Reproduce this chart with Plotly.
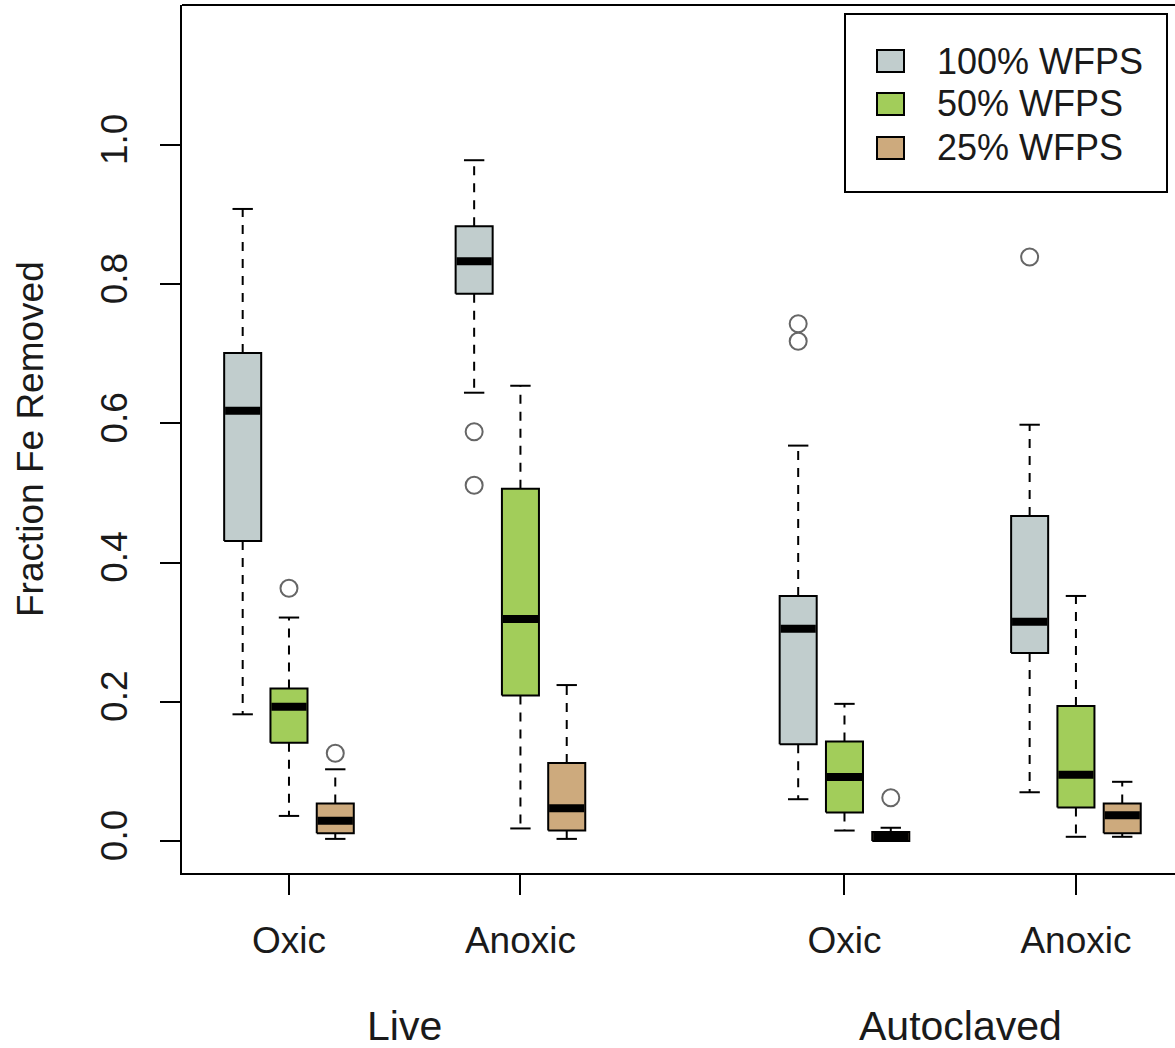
import plotly.graph_objects as go

# ---------------- data ----------------
tick_labels = ["Oxic", "Anoxic", "Oxic", "Anoxic"]
group_pos = [0, 5, 12, 17]
treatments = ["Live", "Autoclaved"]
treatment_pos = [2.5, 14.5]
series = ["100% WFPS", "50% WFPS", "25% WFPS"]
series_offset = [-1, 0, 1]
colors = ["#C1CDCD", "#A2CD5A", "#CDAA7D"]

# five-number summaries per group (Live Oxic, Live Anoxic, Autoclaved Oxic, Autoclaved Anoxic)
wfps100_low = [0.182, 0.644, 0.060, 0.070]
wfps100_q1 = [0.431, 0.786, 0.139, 0.270]
wfps100_med = [0.618, 0.833, 0.305, 0.315]
wfps100_q3 = [0.701, 0.883, 0.352, 0.467]
wfps100_high = [0.908, 0.978, 0.568, 0.598]
wfps100_out = [[], [0.588, 0.511], [0.743, 0.718], [0.839]]

wfps50_low = [0.036, 0.018, 0.015, 0.006]
wfps50_q1 = [0.141, 0.209, 0.041, 0.048]
wfps50_med = [0.193, 0.319, 0.092, 0.095]
wfps50_q3 = [0.219, 0.506, 0.143, 0.194]
wfps50_high = [0.321, 0.654, 0.197, 0.352]
wfps50_out = [[0.363], [], [], []]

wfps25_low = [0.003, 0.003, 0.000, 0.006]
wfps25_q1 = [0.011, 0.015, 0.000, 0.011]
wfps25_med = [0.029, 0.047, 0.006, 0.037]
wfps25_q3 = [0.054, 0.112, 0.013, 0.054]
wfps25_high = [0.103, 0.224, 0.019, 0.085]
wfps25_out = [[0.126], [], [0.062], []]

stats = [
    (wfps100_low, wfps100_q1, wfps100_med, wfps100_q3, wfps100_high, wfps100_out),
    (wfps50_low, wfps50_q1, wfps50_med, wfps50_q3, wfps50_high, wfps50_out),
    (wfps25_low, wfps25_q1, wfps25_med, wfps25_q3, wfps25_high, wfps25_out),
]

# ---------------- style ----------------
FONT = "Liberation Sans, Arial, sans-serif"
TXT = "#1a1a1a"
BOX_HALF = 0.4
CAP_HALF = 0.22
W, H = 1175, 1048
ML, MT, MR, MB = 182, 5, 0, 175
PW, PH = W - ML - MR, H - MT - MB


def px_x(p):
    return (p - ML) / PW


def px_y(p):
    return (H - MB - p) / PH


fig = go.Figure()

for si, (lo, q1, med, q3, hi, out) in enumerate(stats):
    col = colors[si]
    wx, wy, cx, cy, mx, my, ox, oy = [], [], [], [], [], [], [], []
    for gi, g in enumerate(group_pos):
        c = g + series_offset[si]
        # box body
        fig.add_trace(go.Scatter(
            x=[c - BOX_HALF, c + BOX_HALF, c + BOX_HALF, c - BOX_HALF, c - BOX_HALF],
            y=[q1[gi], q1[gi], q3[gi], q3[gi], q1[gi]],
            mode="lines", fill="toself", fillcolor=col,
            line=dict(color="black", width=2), hoverinfo="skip", showlegend=False))
        wx += [c, c, None, c, c, None]
        wy += [q3[gi], hi[gi], None, q1[gi], lo[gi], None]
        cx += [c - CAP_HALF, c + CAP_HALF, None, c - CAP_HALF, c + CAP_HALF, None]
        cy += [hi[gi], hi[gi], None, lo[gi], lo[gi], None]
        mx += [c - BOX_HALF + 0.02, c + BOX_HALF - 0.02, None]
        my += [med[gi], med[gi], None]
        for v in out[gi]:
            ox.append(c)
            oy.append(v)
    fig.add_trace(go.Scatter(x=wx, y=wy, mode="lines",
                             line=dict(color="black", width=2, dash="9px,8px"),
                             hoverinfo="skip", showlegend=False))
    fig.add_trace(go.Scatter(x=cx, y=cy, mode="lines",
                             line=dict(color="black", width=2),
                             hoverinfo="skip", showlegend=False))
    fig.add_trace(go.Scatter(x=mx, y=my, mode="lines",
                             line=dict(color="black", width=8),
                             hoverinfo="skip", showlegend=False))
    if ox:
        fig.add_trace(go.Scatter(x=ox, y=oy, mode="markers",
                                 marker=dict(symbol="circle-open", size=17,
                                             color="#666666", line=dict(width=2, color="#666666")),
                                 hoverinfo="skip", showlegend=False))

# treatment labels
for t, p in zip(treatments, treatment_pos):
    fig.add_annotation(x=p, xref="x", y=px_y(1026), yref="paper", text=t,
                       showarrow=False, xanchor="center", yanchor="middle",
                       font=dict(family=FONT, size=41, color=TXT))

# y-axis title
fig.add_annotation(x=0, xref="paper", xshift=30 - ML, y=0.5, yref="paper",
                   text="Fraction Fe Removed", textangle=-90, showarrow=False,
                   xanchor="center", yanchor="middle",
                   font=dict(family=FONT, size=37, color=TXT))

# top border of plot box
fig.add_shape(type="line", xref="paper", yref="paper", x0=0, x1=1, y0=1, y1=1,
              line=dict(color="black", width=2))

# legend box
fig.add_shape(type="rect", xref="paper", yref="paper",
              x0=px_x(845), x1=px_x(1167), y0=px_y(192), y1=px_y(14),
              line=dict(color="black", width=2), fillcolor="white")
row_y = [61, 104, 148]
for si, name in enumerate(series):
    fig.add_shape(type="rect", xref="paper", yref="paper",
                  x0=px_x(877), x1=px_x(904), y0=px_y(row_y[si] + 11), y1=px_y(row_y[si] - 11),
                  line=dict(color="black", width=2), fillcolor=colors[si])
    fig.add_annotation(x=px_x(935), xref="paper", y=px_y(row_y[si]), yref="paper",
                       text=name, showarrow=False, xanchor="left", yanchor="middle",
                       font=dict(family=FONT, size=36, color=TXT))

fig.update_layout(
    width=W, height=H,
    margin=dict(l=ML, r=MR, t=MT, b=MB, pad=0),
    paper_bgcolor="white", plot_bgcolor="white",
    showlegend=False,
    font=dict(family=FONT, color=TXT),
)
fig.update_xaxes(
    range=[-2.311, 19.14], tickvals=group_pos, ticktext=tick_labels,
    ticks="outside", ticklen=20, tickwidth=1.5, tickcolor="black",
    showline=True, linewidth=2, linecolor="black",
    showgrid=False, zeroline=False, ticklabelstandoff=14,
    tickfont=dict(family=FONT, size=37, color=TXT),
)
fig.update_yaxes(
    range=[-0.046, 1.201], tickvals=[0, 0.2, 0.4, 0.6, 0.8, 1.0],
    ticktext=["0.0", "0.2", "0.4", "0.6", "0.8", "1.0"], tickangle=-90,
    ticks="outside", ticklen=20, tickwidth=1.5, tickcolor="black",
    showline=True, linewidth=2, linecolor="black",
    showgrid=False, zeroline=False, ticklabelstandoff=18,
    tickfont=dict(family=FONT, size=37, color=TXT),
)

fig.write_html("out.html")
